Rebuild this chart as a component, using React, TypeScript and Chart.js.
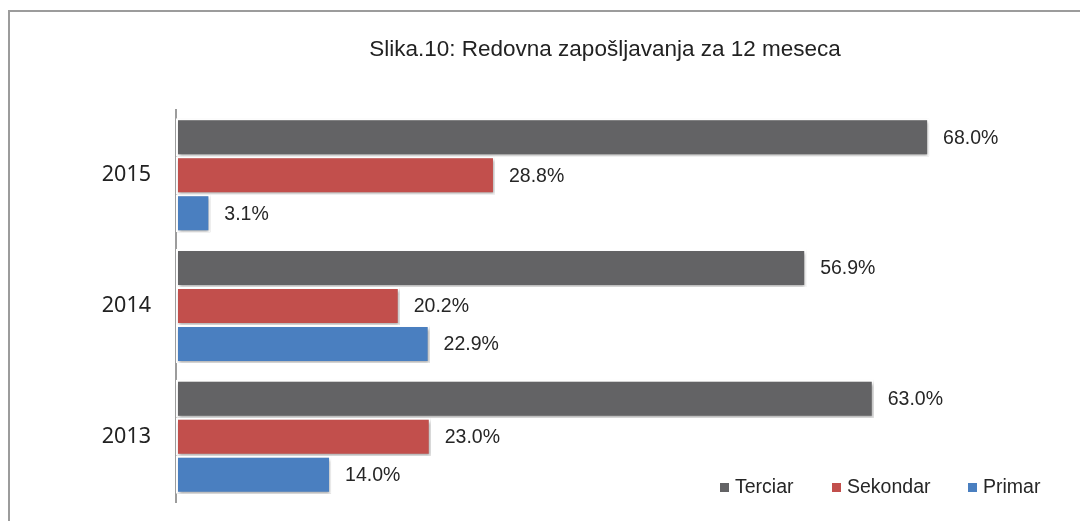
import React, { useEffect, useRef } from "react";
import { Chart, registerables } from "chart.js";

Chart.register(...registerables);

const title = "Slika.10: Redovna zapošljavanja za 12 meseca";
const categories = ["2015", "2014", "2013"];
const seriesNames = ["Terciar", "Sekondar", "Primar"];
const terciar = [68.0, 56.9, 63.0];
const sekondar = [28.8, 20.2, 23.0];
const primar = [3.1, 22.9, 14.0];
const colors = ["#636365", "#c24f4c", "#4a7fc0"];

export default function App() {
  const ref = useRef<HTMLCanvasElement | null>(null);
  useEffect(() => {
    const canvas = ref.current!;
    const deco = {
      id: "deco",
      beforeDraw(chart: any) {
        const ctx = chart.ctx;
        ctx.save();
        ctx.fillStyle = "#ffffff";
        ctx.fillRect(0, 0, chart.width, chart.height);
        ctx.strokeStyle = "#9c9c9c";
        ctx.lineWidth = 2;
        ctx.strokeRect(9, 11, 1200, 700);
        ctx.fillStyle = "#222222";
        ctx.font = "22.5px 'Liberation Sans', Arial, sans-serif";
        ctx.textAlign = "center";
        ctx.textBaseline = "middle";
        ctx.fillText(title, 605, 50);
        ctx.restore();
      },
      beforeDatasetsDraw(chart: any) {
        const ctx = chart.ctx;
        ctx.save();
        ctx.shadowColor = "rgba(0,0,0,0.35)";
        ctx.shadowBlur = 3;
        ctx.shadowOffsetX = 1;
        ctx.shadowOffsetY = 2;
      },
      afterDatasetsDraw(chart: any) {
        const ctx = chart.ctx;
        ctx.restore();
        ctx.save();
        ctx.fillStyle = "#262626";
        ctx.font = "19.5px 'Liberation Sans', Arial, sans-serif";
        ctx.textAlign = "left";
        ctx.textBaseline = "middle";
        chart.data.datasets.forEach((ds: any, i: number) => {
          const meta = chart.getDatasetMeta(i);
          meta.data.forEach((bar: any, j: number) => {
            ctx.fillText(ds.data[j].toFixed(1) + "%", bar.x + 14, bar.y + 1);
          });
        });
        // legend
        const lx = [720, 832, 968];
        seriesNames.forEach((n, i) => {
          ctx.fillStyle = colors[i];
          ctx.fillRect(lx[i], 483, 9, 9);
          ctx.fillStyle = "#262626";
          ctx.fillText(n, lx[i] + 15, 488);
        });
        ctx.restore();
      },
    };
    const mk = (label: string, data: number[], i: number) => ({
      label,
      data,
      backgroundColor: colors[i],
      borderColor: "#ffffff",
      borderWidth: 2,
      borderSkipped: false,
      categoryPercentage: 0.873,
      barPercentage: 1.0,
    });
    const chart = new Chart(canvas, {
      type: "bar",
      data: {
        labels: categories,
        datasets: [mk(seriesNames[0], terciar, 0), mk(seriesNames[1], sekondar, 1), mk(seriesNames[2], primar, 2)],
      },
      plugins: [deco],
      options: {
        indexAxis: "y",
        animation: false,
        responsive: false,
        layout: { padding: { top: 110, bottom: 19, right: 18, left: 0 } },
        plugins: { legend: { display: false }, title: { display: false }, tooltip: { enabled: false } },
        scales: {
          x: { display: false, min: 0, max: 80 },
          y: {
            grid: { display: false, drawTicks: false },
            border: { display: true, color: "#9c9c9c", width: 2 },
            ticks: {
              padding: 25,
              color: "#222222",
              font: { family: "'Noto Sans', sans-serif", size: 21.5 },
            },
            afterFit(scale: any) {
              scale.width = 176;
              scale.paddingTop = 0;
              scale.paddingBottom = 0;
            },
          },
        },
      },
    } as any);
    return () => chart.destroy();
  }, []);
  return (
    <div style={{ position: "fixed", left: 0, top: 0, width: 1080, height: 521, background: "#fff" }}>
      <canvas ref={ref} width={1080} height={521} style={{ width: 1080, height: 521, display: "block" }} />
    </div>
  );
}
